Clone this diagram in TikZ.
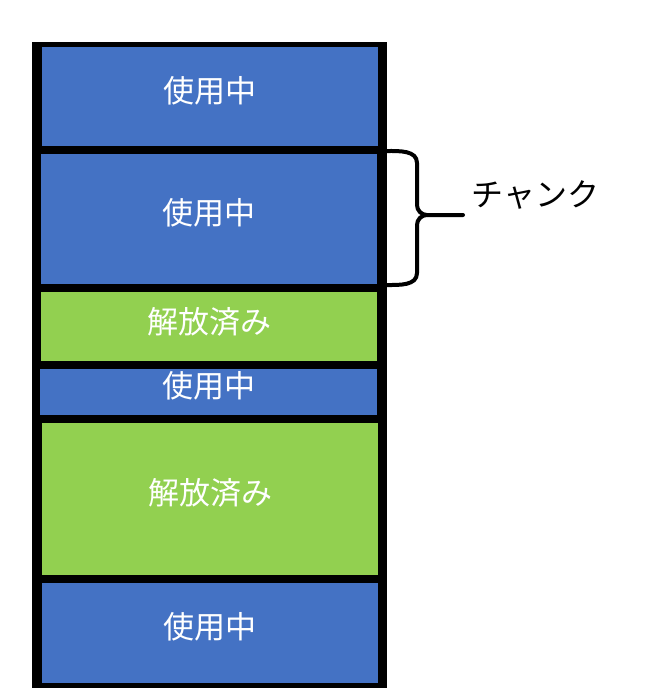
\documentclass[tikz,border=0pt]{standalone}
\usepackage{fontspec}
\newfontfamily\jpfont{Noto Sans CJK JP}
\usetikzlibrary{calc}

\definecolor{usedblue}{HTML}{4472C4}
\definecolor{freegreen}{HTML}{92D050}

\begin{document}
\begin{tikzpicture}[x=1pt, y=-1pt,
  blk/.style={rectangle, inner sep=0pt, minimum width=336pt},
  used/.style={blk, fill=usedblue},
  freed/.style={blk, fill=freegreen},
  lbl/.style={text=white, font=\jpfont\fontsize{31}{36}\selectfont},
  brc/.style={line width=4pt, line cap=round}]
  % canvas is 647 x 688 px, y grows downward
  \useasboundingbox (0,0) rectangle (647,688);
  % the heap: black backing, blocks laid on top with gaps between them
  \fill[black] (32,42) rectangle (387,688);
  \node[used,  minimum height=99pt]  (b1) at (210,96.5)  {};
  \node[used,  minimum height=130pt] (b2) at (209,219)   {};
  \node[freed, minimum height=69pt]  (b3) at (209,326.5) {};
  \node[used,  minimum height=46pt, minimum width=337pt] (b4) at (208.5,392) {};
  \node[freed, minimum height=152pt] (b5) at (210,499)   {};
  \node[used,  minimum height=100pt] (b6) at (210,633)   {};
  % labels sit a little above the middle
  \node[lbl] (t1) at ([yshift=6pt]b1.center) {使用中};
  \node[lbl] (t2) at ([yshift=6pt]b2.center) {使用中};
  \node[lbl] (t3) at ([yshift=5pt]b3.center) {解放済み};
  \node[lbl] (t4) at ([yshift=6pt]b4.center) {使用中};
  \node[lbl] (t5) at ([yshift=6pt]b5.center) {解放済み};
  \node[lbl] (t6) at ([yshift=6pt]b6.center) {使用中};
  % brace round the second block
  \coordinate (top) at (387,151);
  \coordinate (bot) at (387,285);
  \coordinate (tip) at (463,215);
  \draw[brc] (top) to[out=0,in=90] (417,163) -- (417,205)
    to[out=-90,in=180] (427,215) -- (tip);
  \draw[brc] (427,215) to[out=180,in=90] (417,225) -- (417,273)
    to[out=-90,in=0] (bot);
  \node[font=\jpfont\fontsize{32}{36}\selectfont, anchor=west] (chunk) at (468,195) {チャンク};
\end{tikzpicture}
\end{document}
